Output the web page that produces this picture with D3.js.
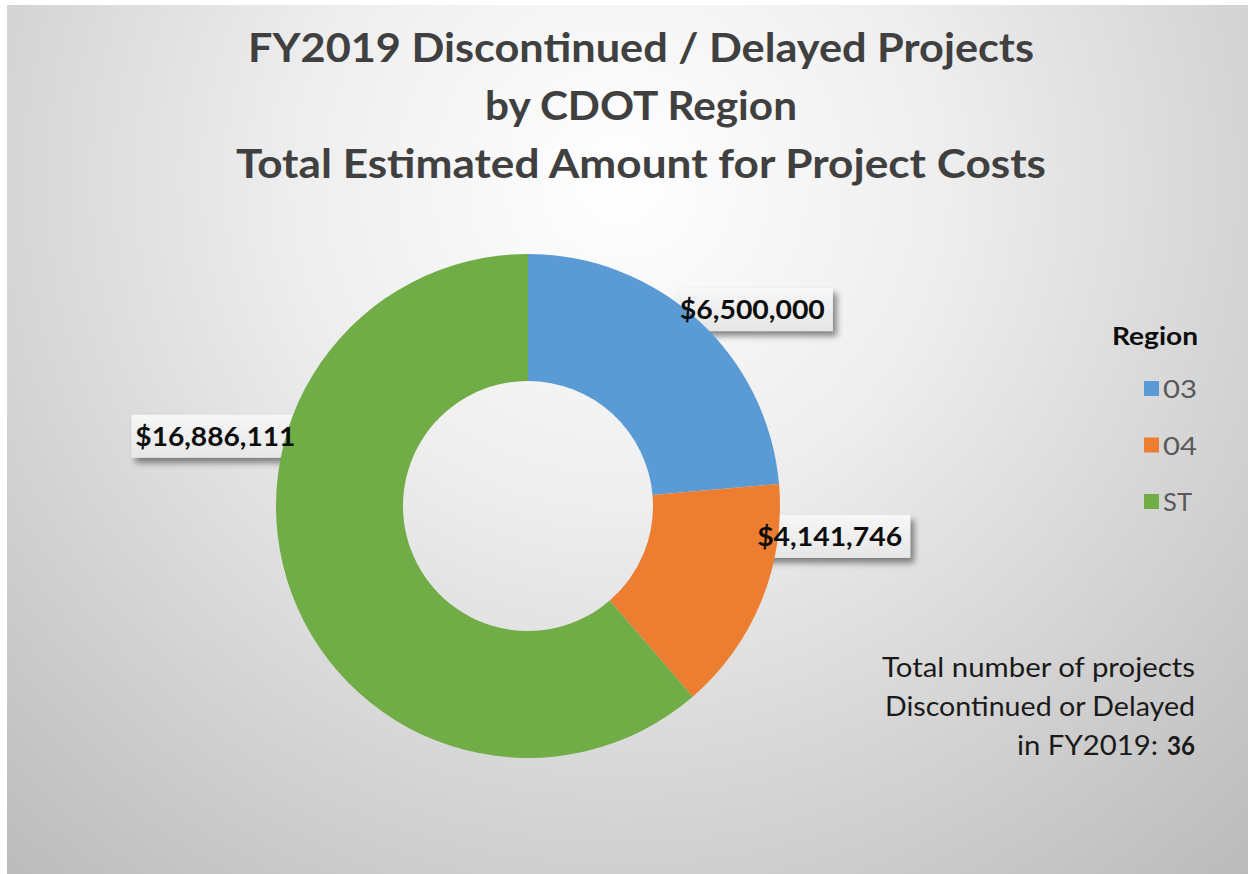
<!DOCTYPE html>
<html>
<head>
<meta charset="utf-8">
<script src="https://cdn.jsdelivr.net/npm/d3@7"></script>
<style>
  html, body { margin: 0; padding: 0; background: #ffffff; }
  svg { display: block; }
  text { font-family: Lato, "Open Sans", "DejaVu Sans", sans-serif; }
</style>
</head>
<body>
<svg id="chart" width="1248" height="874"></svg>
<script>
// ---- data ----
const titleLines = [
  "FY2019 Discontinued / Delayed Projects",
  "by CDOT Region",
  "Total Estimated Amount for Project Costs"
];
const regions = ["03", "04", "ST"];
const amounts = [6500000, 4141746, 16886111];
const regionColors = ["#5B9BD5", "#ED7D31", "#70AD47"];
const legendTitle = "Region";
const noteLines = ["Total number of projects", "Discontinued or Delayed", "in FY2019:"];
const totalProjects = 36;

// ---- layout ----
const W = 1248, H = 874;
const svg = d3.select("#chart");
const defs = svg.append("defs");

const bg = defs.append("radialGradient")
  .attr("id", "bgGrad")
  .attr("gradientUnits", "userSpaceOnUse")
  .attr("cx", 620).attr("cy", 180).attr("r", 930);
bg.append("stop").attr("offset", "0").attr("stop-color", "#ffffff");
bg.append("stop").attr("offset", "0.35").attr("stop-color", "#eeeeee");
bg.append("stop").attr("offset", "1").attr("stop-color", "#bbbbbb");

const shadow = defs.append("filter").attr("id", "shadow")
  .attr("x", "-20%").attr("y", "-40%").attr("width", "140%").attr("height", "200%");
shadow.append("feDropShadow")
  .attr("dx", 4).attr("dy", 5).attr("stdDeviation", 3)
  .attr("flood-color", "#000").attr("flood-opacity", 0.45);

const boxGrad = defs.append("linearGradient").attr("id", "boxGrad")
  .attr("x1", 0).attr("y1", 0).attr("x2", 0).attr("y2", 1);
boxGrad.append("stop").attr("offset", 0).attr("stop-color", "#f7f7f7");
boxGrad.append("stop").attr("offset", 1).attr("stop-color", "#e6e6e6");

svg.append("rect")
  .attr("x", 7).attr("y", 5).attr("width", W - 7).attr("height", H - 5)
  .attr("fill", "url(#bgGrad)");

// title
const titleWidths = [786, 312, 810];
svg.append("g").selectAll("text").data(titleLines).join("text")
  .attr("x", 641)
  .attr("y", (d, i) => 62 + i * 58)
  .attr("text-anchor", "middle")
  .attr("font-size", 40)
  .attr("font-weight", 700)
  .attr("fill", "#404040")
  .attr("textLength", (d, i) => titleWidths[i])
  .attr("lengthAdjust", "spacingAndGlyphs")
  .text(d => d);

// donut
const cx = 528, cy = 506;
const color = d3.scaleOrdinal().domain(regions).range(regionColors);
const pie = d3.pie().sort(null).value(d => d.value);
const arcs = pie(regions.map((r, i) => ({ region: r, value: amounts[i] })));
const arc = d3.arc().innerRadius(125).outerRadius(252);
const fmt = d3.format("$,");

// label offsets relative to slice centroid (layout only)
const labelOffset = { "03": [97, -48], "04": [127, -31], "ST": [-136, -126] };
const labelWidth = { "03": 145, "04": 145, "ST": 160 };
const labelAnchor = d => {
  const c = arc.centroid(d);
  const o = labelOffset[d.data.region];
  return [cx + c[0] + o[0], cy + c[1] + o[1]];
};

const g = svg.append("g");
const boxLayer = g.append("g");
const sliceLayer = g.append("g").attr("transform", `translate(${cx},${cy})`);
const textLayer = g.append("g");

sliceLayer.selectAll("path").data(arcs).join("path")
  .attr("d", arc)
  .attr("fill", d => color(d.data.region));

const labels = textLayer.selectAll("text").data(arcs).join("text")
  .attr("x", d => labelAnchor(d)[0])
  .attr("y", d => labelAnchor(d)[1])
  .attr("text-anchor", "middle")
  .attr("font-size", 27)
  .attr("font-weight", 700)
  .attr("fill", "#0d0d0d")
  .attr("textLength", d => labelWidth[d.data.region])
  .attr("lengthAdjust", "spacingAndGlyphs")
  .text(d => fmt(d.data.value));

labels.each(function(d) {
  const a = labelAnchor(d);
  const w = labelWidth[d.data.region];
  boxLayer.append("rect")
    .attr("x", a[0] - w / 2 - 4).attr("y", a[1] - 31)
    .attr("width", w + 12).attr("height", 43)
    .attr("fill", "url(#boxGrad)")
    .attr("filter", "url(#shadow)");
});

// legend
const lg = svg.append("g");
lg.append("text")
  .attr("x", 1198).attr("y", 345)
  .attr("text-anchor", "end")
  .attr("font-size", 25).attr("font-weight", 700).attr("fill", "#0d0d0d")
  .attr("textLength", 86).attr("lengthAdjust", "spacingAndGlyphs")
  .text(legendTitle);
const items = lg.selectAll("g.item").data(regions).join("g").attr("class", "item")
  .attr("transform", (d, i) => `translate(0, ${389 + i * 56.5})`);
items.append("rect")
  .attr("x", 1144).attr("y", -8)
  .attr("width", 15).attr("height", 15)
  .attr("fill", d => color(d));
items.append("text")
  .attr("x", 1163).attr("y", 9)
  .attr("font-size", 25).attr("fill", "#595959")
  .attr("textLength", d => d === "ST" ? 29 : 34).attr("lengthAdjust", "spacingAndGlyphs")
  .text(d => d);

// note
const noteWidths = [313, 310, 141];
const note = svg.append("g");
note.selectAll("text").data(noteLines).join("text")
  .attr("x", (d, i) => i === 2 ? 1158 : 1195)
  .attr("y", (d, i) => 677 + i * 39)
  .attr("text-anchor", "end")
  .attr("font-size", 26).attr("fill", "#1a1a1a")
  .attr("textLength", (d, i) => noteWidths[i]).attr("lengthAdjust", "spacingAndGlyphs")
  .text(d => d);
note.append("text")
  .attr("x", 1195).attr("y", 677 + 2 * 39)
  .attr("text-anchor", "end")
  .attr("font-size", 26).attr("font-weight", 700).attr("fill", "#1a1a1a")
  .attr("textLength", 28).attr("lengthAdjust", "spacingAndGlyphs")
  .text(totalProjects);
</script>
</body>
</html>
